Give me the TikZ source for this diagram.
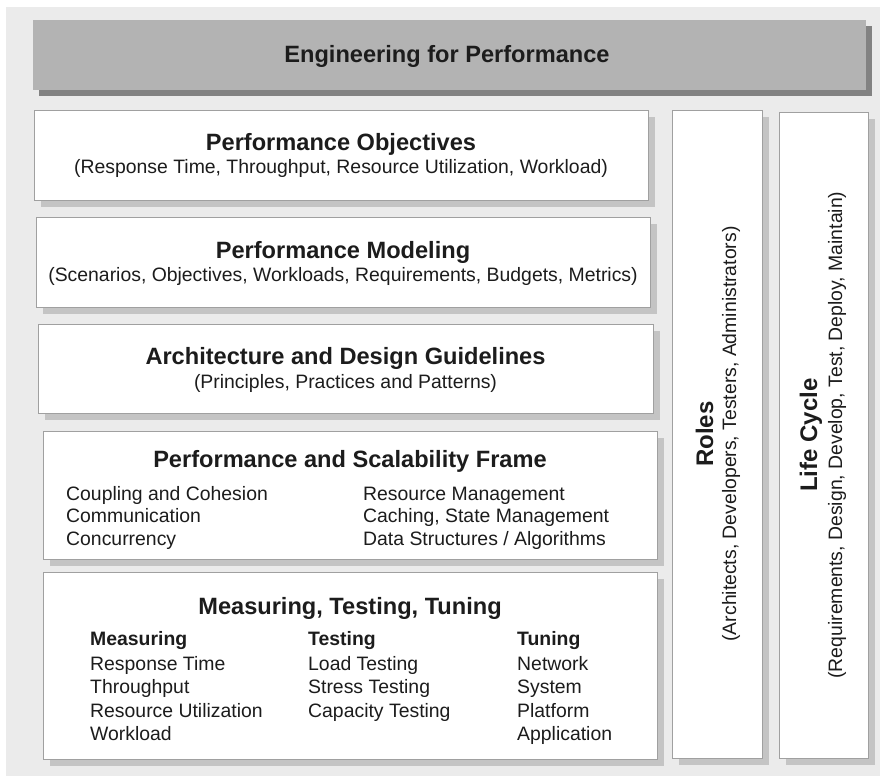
\documentclass[tikz,border=0pt]{standalone}
\usepackage{fontspec}
\setmainfont{Liberation Sans}
\usetikzlibrary{shadows}
\definecolor{bgcol}{HTML}{EBEBEB}
\definecolor{barfill}{HTML}{B3B3B3}
\definecolor{barshadow}{HTML}{828282}
\definecolor{boxborder}{HTML}{A0A0A0}
\definecolor{boxshadow}{HTML}{C4C4C4}
\definecolor{txt}{HTML}{1C1C1C}
\tikzset{
  panel/.style={draw=boxborder, line width=1.2pt, fill=white, anchor=north west, inner sep=0pt,
    drop shadow={shadow xshift=6pt, shadow yshift=-6pt, opacity=1, fill=boxshadow}},
  topbar/.style={fill=barfill, anchor=north west, inner sep=0pt,
    drop shadow={shadow xshift=6pt, shadow yshift=-6pt, opacity=1, fill=barshadow}},
  headtxt/.style={inner sep=0pt, anchor=base, text=txt, font=\fontsize{23.6}{28}\selectfont\bfseries},
  subtxt/.style={inner sep=0pt, anchor=base, text=txt, font=\fontsize{19.4}{23}\selectfont},
  bodytxt/.style={inner sep=0pt, anchor=base west, text=txt, font=\fontsize{19.4}{23}\selectfont},
  colhead/.style={inner sep=0pt, anchor=base west, text=txt, font=\fontsize{19.4}{23}\selectfont\bfseries},
  sidehead/.style={inner sep=0pt, anchor=base, rotate=90, text=txt, font=\fontsize{24}{28}\selectfont\bfseries},
  sidesub/.style={inner sep=0pt, anchor=base, rotate=90, text=txt, font=\fontsize{19.4}{23}\selectfont},
}
\begin{document}
\begin{tikzpicture}[x=1pt,y=-1pt]
\useasboundingbox (0,0) rectangle (885,776);
\fill[bgcol] (6,7) rectangle (880,776);

% top bar
\node[topbar, minimum width=833pt, minimum height=70pt] (bar) at (33,20) {};
\node[headtxt] (title) at (447,63) {Engineering for Performance};

% stacked boxes
\node[panel, minimum width=614pt, minimum height=90pt] (b1) at (34,110) {};
\node[panel, minimum width=614pt, minimum height=90pt] (b2) at (36,217) {};
\node[panel, minimum width=615pt, minimum height=89pt] (b3) at (38,324) {};
\node[panel, minimum width=614pt, minimum height=128pt] (b4) at (43,431) {};
\node[panel, minimum width=614pt, minimum height=187pt] (b5) at (43,572) {};

% side boxes
\node[panel, minimum width=90pt, minimum height=648pt] (roles) at (672,110) {};
\node[panel, minimum width=89pt, minimum height=646pt] (life) at (779,112) {};

% box 1
\node[headtxt] (h1) at (341,150) {Performance Objectives};
\node[subtxt] (s1) at (341,173) {(Response Time, Throughput, Resource Utilization, Workload)};
% box 2
\node[headtxt] (h2) at (343,258) {Performance Modeling};
\node[subtxt] (s2) at (343,281) {(Scenarios, Objectives, Workloads, Requirements, Budgets, Metrics)};
% box 3
\node[headtxt] (h3) at (345.5,364) {Architecture and Design Guidelines};
\node[subtxt] (s3) at (345.5,388) {(Principles, Practices and Patterns)};
% box 4
\node[headtxt] (h4) at (350,467) {Performance and Scalability Frame};
\foreach \t [count=\i] in {Coupling and Cohesion, Communication, Concurrency}
  \node[bodytxt] (l\i) at (66,{500+(\i-1)*22.5}) {\t};
\foreach \t [count=\i] in {Resource Management, {Caching, State Management}, Data Structures / Algorithms}
  \node[bodytxt] (r\i) at (363,{500+(\i-1)*22.5}) {\t};
% box 5
\node[headtxt] (h5) at (350,614) {Measuring, Testing, Tuning};
\node[colhead] (mh) at (90,645) {Measuring};
\node[colhead] (th) at (308,645) {Testing};
\node[colhead] (uh) at (517,645) {Tuning};
\foreach \t [count=\i] in {Response Time, Throughput, Resource Utilization, Workload}
  \node[bodytxt] (m\i) at (90,{670+(\i-1)*23.6}) {\t};
\foreach \t [count=\i] in {Load Testing, Stress Testing, Capacity Testing}
  \node[bodytxt] (t\i) at (308,{670+(\i-1)*23.6}) {\t};
\foreach \t [count=\i] in {Network, System, Platform, Application}
  \node[bodytxt] (u\i) at (517,{670+(\i-1)*23.6}) {\t};

% side texts
\node[sidehead] (rh) at (713,434) {Roles};
\node[sidesub] (rs) at (736,434) {(Architects, Developers, Testers, Administrators)};
\node[sidehead] (lh) at (817,435) {Life Cycle};
\node[sidesub] (ls) at (842,435) {(Requirements, Design, Develop, Test, Deploy, Maintain)};
\end{tikzpicture}
\end{document}
